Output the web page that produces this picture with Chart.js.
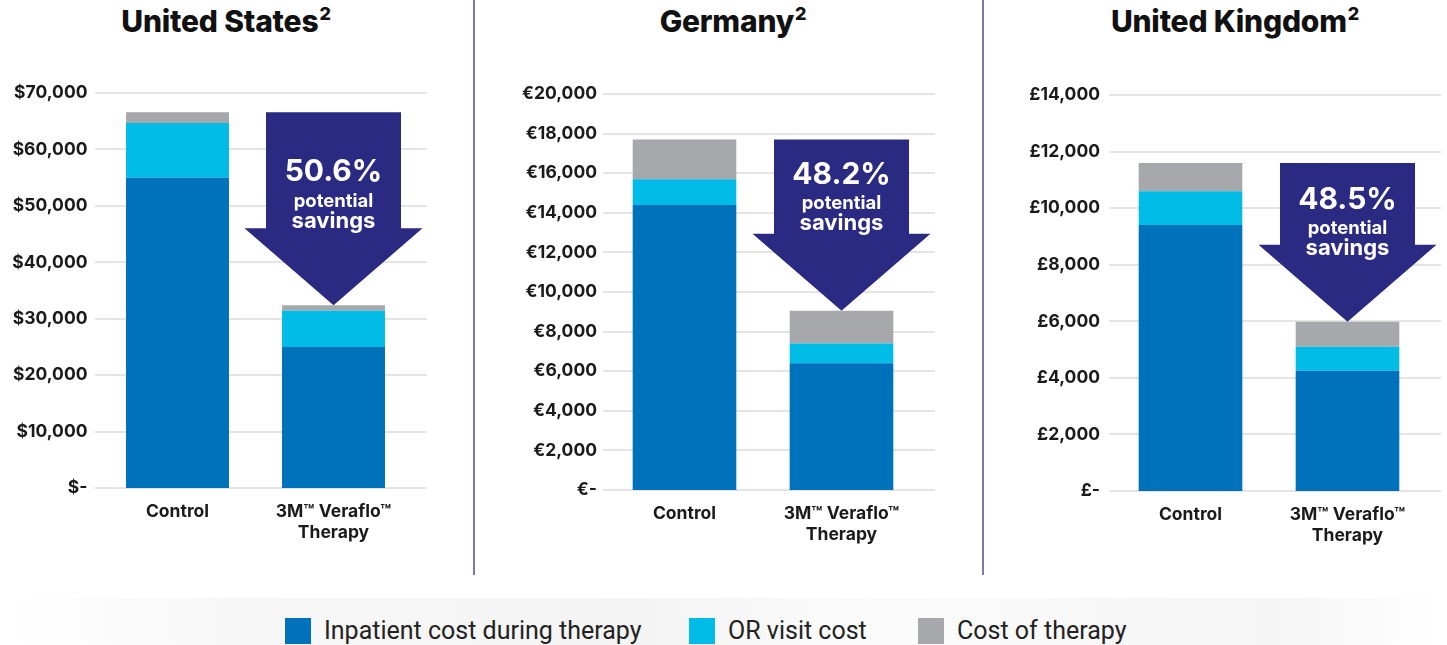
<!DOCTYPE html>
<html lang="en">
<head>
  <meta charset="UTF-8" />
  <title>Veraflo Therapy cost comparison</title>
  <script src="https://cdn.jsdelivr.net/npm/chart.js"></script>
  <style>
    html, body { margin: 0; padding: 0; background: #fff; }
    body { width: 1447px; height: 645px; position: relative; overflow: hidden; font-family: 'Inter', 'Open Sans', sans-serif; color: #111; }
    canvas { position: absolute; top: 0; }
    .title { position: absolute; top: 3px; transform: translateX(-50%); white-space: nowrap; font-weight: 800; font-size: 30px; letter-spacing: -0.2px; }
    .title sup { font-size: 18px; vertical-align: 0; position: relative; top: -12px; margin-left: 1px; }
    .divider { position: absolute; top: 0; width: 2px; height: 575px; background: #7d78b5; }
    .band { position: absolute; left: 0; top: 598px; width: 1447px; height: 47px;
      background: linear-gradient(to right, #fff 0%, #f7f7f7 16%, #f4f4f4 44%, #fbfbfb 60%, #f5f5f5 88%, #fff 100%); }
    .legend { position: absolute; top: 616px; left: 0; width: 1447px; }
    .legend .item { position: absolute; display: flex; align-items: center; font-family: 'Roboto', sans-serif; font-size: 25px; color: #222; }
    .legend .sw { width: 26px; height: 26px; margin-right: 13px; }
  </style>
</head>
<body>
  <div class="title" style="left:226px;">United States<sup>2</sup></div>
  <canvas id="us" width="474" height="575" style="left:0;"></canvas>
  <div class="divider" style="left:473px;"></div>
  <div class="title" style="left:733px;">Germany<sup>2</sup></div>
  <canvas id="de" width="508" height="575" style="left:475px;"></canvas>
  <div class="divider" style="left:982px;"></div>
  <div class="title" style="left:1235px;">United Kingdom<sup>2</sup></div>
  <canvas id="uk" width="463" height="575" style="left:984px;"></canvas>
  <div class="band"></div>
  <div class="legend" id="legend"></div>

  <script>
    // categories and series
    const categories = ['Control', ['3M\u2122 Veraflo\u2122', 'Therapy']];
    const seriesNames = ['Inpatient cost during therapy', 'OR visit cost', 'Cost of therapy'];
    const seriesColors = ['#0071bb', '#00bce6', '#a7a8ab'];

    // values
    const usInpatient = [55000, 25000];
    const usOrVisit   = [9700, 6400];
    const usTherapy   = [1900, 1000];

    const deInpatient = [14400, 6400];
    const deOrVisit   = [1300, 1000];
    const deTherapy   = [2000, 1650];

    const ukInpatient = [9400, 4250];
    const ukOrVisit   = [1200, 850];
    const ukTherapy   = [1000, 880];

    const savingsLabels = ['50.6%', '48.2%', '48.5%'];
    const currencySymbols = ['$', '\u20ac', '\u00a3'];
    const yMaxValues = [70000, 20000, 14000];
    const yStepValues = [10000, 2000, 2000];

    const ARROW = '#2a2a82';

    // legend
    const legendLeft = [285, 689, 918];
    const legend = document.getElementById('legend');
    seriesNames.forEach((name, i) => {
      const el = document.createElement('div');
      el.className = 'item';
      el.style.left = legendLeft[i] + 'px';
      el.innerHTML = '<span class="sw" style="background:' + seriesColors[i] + '"></span>' + name;
      legend.appendChild(el);
    });

    // arrow from the control total down to the Veraflo total
    const savingsArrow = {
      id: 'savingsArrow',
      afterDatasetsDraw(chart, args, opts) {
        const ctx = chart.ctx;
        const x = chart.scales.x, y = chart.scales.y;
        const totals = [0, 1].map(i => chart.data.datasets.reduce((s, d) => s + d.data[i], 0));
        const cx = x.getPixelForValue(1);
        const top = y.getPixelForValue(totals[0]);
        const tip = y.getPixelForValue(totals[1]);
        const head = tip - 77;
        ctx.save();
        ctx.fillStyle = ARROW;
        ctx.beginPath();
        ctx.moveTo(cx - 67.5, top);
        ctx.lineTo(cx + 67.5, top);
        ctx.lineTo(cx + 67.5, head);
        ctx.lineTo(cx + 89, head);
        ctx.lineTo(cx, tip);
        ctx.lineTo(cx - 89, head);
        ctx.lineTo(cx - 67.5, head);
        ctx.closePath();
        ctx.fill();
        ctx.fillStyle = '#fff';
        ctx.textAlign = 'center';
        ctx.textBaseline = 'middle';
        ctx.font = '700 30px Inter, sans-serif';
        ctx.fillText(opts.label, cx, head + opts.dy);
        ctx.font = '700 18.5px Inter, sans-serif';
        ctx.fillText('potential', cx, head + opts.dy + 29);
        ctx.font = '700 22px Inter, sans-serif';
        ctx.fillText('savings', cx, head + opts.dy + 49);
        ctx.restore();
      }
    };

    // horizontal gridlines, a little wider than the bar area
    const wideGrid = {
      id: 'wideGrid',
      beforeDatasetsDraw(chart, args, opts) {
        const ctx = chart.ctx, y = chart.scales.y, a = chart.chartArea;
        ctx.save();
        ctx.strokeStyle = '#e4e4e4';
        ctx.lineWidth = 2;
        y.ticks.forEach(t => {
          const py = Math.round(y.getPixelForValue(t.value));
          ctx.beginPath();
          ctx.moveTo(a.left - opts.left, py);
          ctx.lineTo(a.right + opts.right, py);
          ctx.stroke();
        });
        ctx.restore();
      }
    };

    function makeChart(id, idx, inpatient, orVisit, therapy, lay) {
      const sym = currencySymbols[idx];
      new Chart(document.getElementById(id), {
        type: 'bar',
        data: {
          labels: categories,
          datasets: [inpatient, orVisit, therapy].map((d, i) => ({
            label: seriesNames[i],
            data: d,
            backgroundColor: seriesColors[i],
            borderWidth: 0,
            barPercentage: 0.66,
            categoryPercentage: 1
          }))
        },
        options: {
          responsive: false,
          animation: false,
          layout: { padding: { left: 0, right: lay.padRight, top: lay.top, bottom: 0 } },
          plugins: {
            legend: { display: false },
            tooltip: { enabled: false },
            savingsArrow: { label: savingsLabels[idx], dy: lay.textDy },
            wideGrid: { left: lay.gridLeft, right: lay.gridRight }
          },
          scales: {
            x: {
              stacked: true,
              grid: { display: false, drawTicks: false },
              border: { display: false },
              ticks: { color: '#1a1a1a', padding: 13, maxRotation: 0, font: { family: 'Inter', size: 17.5, weight: '700', lineHeight: 1.2 } },
              afterFit(scale) { scale.height = lay.xHeight; }
            },
            y: {
              stacked: true,
              min: 0,
              max: yMaxValues[idx],
              grid: { display: false, drawTicks: false },
              border: { display: false },
              ticks: {
                stepSize: yStepValues[idx],
                padding: lay.tickPad,
                color: '#1a1a1a',
                font: { family: 'Inter', size: 17.5, weight: '700' },
                callback: v => v === 0 ? sym + '-' : sym + v.toLocaleString('en-US')
              },
              afterFit(scale) { scale.width = lay.yWidth; }
            }
          }
        },
        plugins: [wideGrid, savingsArrow]
      });
    }

    makeChart('us', 0, usInpatient, usOrVisit, usTherapy,
      { yWidth: 99.5, padRight: 62.5, top: 93, xHeight: 87, tickPad: 12, gridLeft: 4.5, gridRight: 15.5, textDy: -56 });
    makeChart('de', 1, deInpatient, deOrVisit, deTherapy,
      { yWidth: 131, padRight: 63, top: 94, xHeight: 85, tickPad: 9, gridLeft: 3, gridRight: 15, textDy: -59 });
    makeChart('uk', 2, ukInpatient, ukOrVisit, ukTherapy,
      { yWidth: 128, padRight: 21, top: 95, xHeight: 84, tickPad: 12, gridLeft: 3, gridRight: 15, textDy: -45 });
  </script>
</body>
</html>
